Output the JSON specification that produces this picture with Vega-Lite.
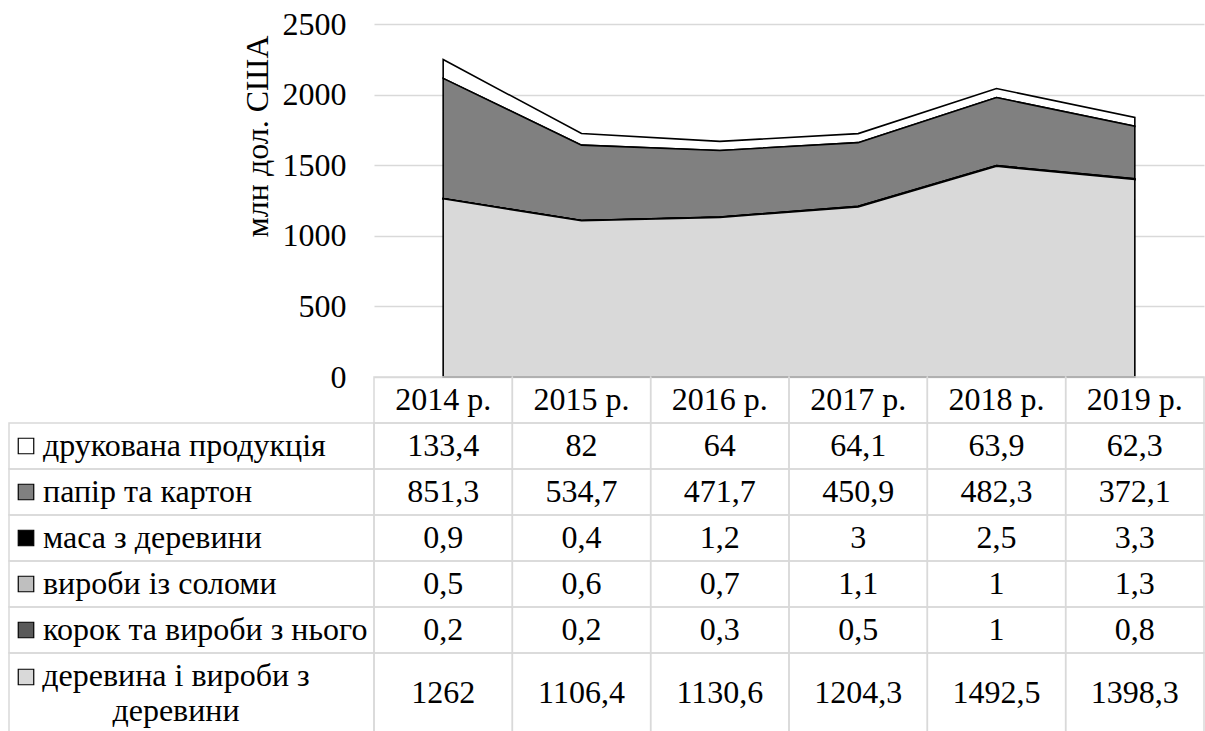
{
  "$schema": "https://vega.github.io/schema/vega-lite/v6.json",
  "padding": {"left": 8, "top": 8, "right": 2, "bottom": 0},
  "autosize": {"type": "pad"},
  "bounds": "flush",
  "spacing": 0,
  "columns": 2,
  "config": {
    "view": {"stroke": null},
    "font": "Liberation Serif",
    "locale": {"number": {"decimal": ",", "thousands": "", "grouping": [3], "currency": ["", ""]}},
    "text": {"font": "Liberation Serif", "fontSize": 32, "color": "black"}
  },
  "datasets": {
    "trade": [
      {"year": "2014 р.", "series": "друкована продукція", "value": 133.4},
      {"year": "2014 р.", "series": "папір та картон", "value": 851.3},
      {"year": "2014 р.", "series": "маса з деревини", "value": 0.9},
      {"year": "2014 р.", "series": "вироби із соломи", "value": 0.5},
      {"year": "2014 р.", "series": "корок та вироби з нього", "value": 0.2},
      {"year": "2014 р.", "series": "деревина і вироби з\nдеревини", "value": 1262},
      {"year": "2015 р.", "series": "друкована продукція", "value": 82},
      {"year": "2015 р.", "series": "папір та картон", "value": 534.7},
      {"year": "2015 р.", "series": "маса з деревини", "value": 0.4},
      {"year": "2015 р.", "series": "вироби із соломи", "value": 0.6},
      {"year": "2015 р.", "series": "корок та вироби з нього", "value": 0.2},
      {"year": "2015 р.", "series": "деревина і вироби з\nдеревини", "value": 1106.4},
      {"year": "2016 р.", "series": "друкована продукція", "value": 64},
      {"year": "2016 р.", "series": "папір та картон", "value": 471.7},
      {"year": "2016 р.", "series": "маса з деревини", "value": 1.2},
      {"year": "2016 р.", "series": "вироби із соломи", "value": 0.7},
      {"year": "2016 р.", "series": "корок та вироби з нього", "value": 0.3},
      {"year": "2016 р.", "series": "деревина і вироби з\nдеревини", "value": 1130.6},
      {"year": "2017 р.", "series": "друкована продукція", "value": 64.1},
      {"year": "2017 р.", "series": "папір та картон", "value": 450.9},
      {"year": "2017 р.", "series": "маса з деревини", "value": 3},
      {"year": "2017 р.", "series": "вироби із соломи", "value": 1.1},
      {"year": "2017 р.", "series": "корок та вироби з нього", "value": 0.5},
      {"year": "2017 р.", "series": "деревина і вироби з\nдеревини", "value": 1204.3},
      {"year": "2018 р.", "series": "друкована продукція", "value": 63.9},
      {"year": "2018 р.", "series": "папір та картон", "value": 482.3},
      {"year": "2018 р.", "series": "маса з деревини", "value": 2.5},
      {"year": "2018 р.", "series": "вироби із соломи", "value": 1},
      {"year": "2018 р.", "series": "корок та вироби з нього", "value": 1},
      {"year": "2018 р.", "series": "деревина і вироби з\nдеревини", "value": 1492.5},
      {"year": "2019 р.", "series": "друкована продукція", "value": 62.3},
      {"year": "2019 р.", "series": "папір та картон", "value": 372.1},
      {"year": "2019 р.", "series": "маса з деревини", "value": 3.3},
      {"year": "2019 р.", "series": "вироби із соломи", "value": 1.3},
      {"year": "2019 р.", "series": "корок та вироби з нього", "value": 0.8},
      {"year": "2019 р.", "series": "деревина і вироби з\nдеревини", "value": 1398.3}
    ]
  },
  "concat": [
    {
      "width": 365, "height": 353,
      "data": {"values": [{}]},
      "mark": {"type": "text", "text": ""}
    },
    {
      "width": 830, "height": 353,
      "data": {"name": "trade"},
      "transform": [
        {"calculate": "indexof(['деревина і вироби з\\nдеревини', 'корок та вироби з нього', 'вироби із соломи', 'маса з деревини', 'папір та картон', 'друкована продукція'], datum.series)", "as": "ord"}
      ],
      "mark": {"type": "area", "stroke": "black", "strokeWidth": 1.6, "strokeJoin": "miter"},
      "encoding": {
        "x": {"field": "year", "type": "ordinal", "scale": {"type": "point", "padding": 0.5}, "axis": null},
        "y": {
          "field": "value", "type": "quantitative", "stack": "zero",
          "scale": {"domain": [0, 2500], "nice": false},
          "axis": {
            "title": "млн дол. США", "values": [0, 500, 1000, 1500, 2000, 2500],
            "grid": true, "gridColor": "#d9d9d9", "gridWidth": 1.5,
            "domain": false, "ticks": false, "labelPadding": 28,
            "labelFont": "Liberation Serif", "labelFontSize": 32, "labelColor": "black",
            "titleFont": "Liberation Serif", "titleFontSize": 32, "titleFontWeight": "normal",
            "titleColor": "black", "titlePadding": 8, "titleAnchor": "end", "titleY": 11
          }
        },
        "color": {
          "field": "series", "type": "nominal", "legend": null,
          "scale": {
            "domain": ["друкована продукція", "папір та картон", "маса з деревини", "вироби із соломи", "корок та вироби з нього", "деревина і вироби з\nдеревини"],
            "range": ["#ffffff", "#808080", "#000000", "#bfbfbf", "#595959", "#d9d9d9"]
          }
        },
        "order": {"field": "ord", "type": "quantitative"}
      }
    },
    {
      "width": 365, "height": 276,
      "data": {"name": "trade"},
      "transform": [
        {"filter": "datum.year === '2014 р.' && indexof(datum.series, 'деревина') !== 0"}
      ],
      "encoding": {
        "y": {
          "field": "series", "type": "nominal", "axis": null,
          "scale": {"domain": [" ", "друкована продукція", "папір та картон", "маса з деревини", "вироби із соломи", "корок та вироби з нього"], "paddingInner": 0, "paddingOuter": 0}
        }
      },
      "layer": [
        {"mark": {"type": "rect", "filled": false, "stroke": "#d9d9d9", "strokeWidth": 1.5}},
        {
          "mark": {"type": "point", "shape": "square", "size": 240, "filled": true, "stroke": "black", "strokeWidth": 1.2, "opacity": 1, "xOffset": 17},
          "encoding": {
            "x": {"datum": "k", "type": "nominal", "bandPosition": 0, "axis": null, "scale": {"type": "band", "domain": ["k"], "paddingInner": 0, "paddingOuter": 0}},
            "fill": {
              "field": "series", "type": "nominal", "legend": null,
              "scale": {
                "domain": ["друкована продукція", "папір та картон", "маса з деревини", "вироби із соломи", "корок та вироби з нього", "деревина і вироби з\nдеревини"],
                "range": ["#ffffff", "#808080", "#000000", "#bfbfbf", "#595959", "#d9d9d9"]
              }
            }
          }
        },
        {
          "mark": {"type": "text", "align": "left", "baseline": "middle", "dx": 34, "fontSize": 32},
          "encoding": {
            "x": {"datum": "k", "type": "nominal", "bandPosition": 0, "axis": null, "scale": {"type": "band", "domain": ["k"], "paddingInner": 0, "paddingOuter": 0}},
            "text": {"field": "series"}
          }
        }
      ]
    },
    {
      "width": 830, "height": 276,
      "data": {"name": "trade"},
      "transform": [
        {"filter": "indexof(datum.series, 'деревина') !== 0"}
      ],
      "encoding": {
        "x": {"field": "year", "type": "nominal", "axis": null, "scale": {"type": "band", "paddingInner": 0, "paddingOuter": 0}},
        "y": {
          "field": "series", "type": "nominal", "axis": null,
          "scale": {"domain": [" ", "друкована продукція", "папір та картон", "маса з деревини", "вироби із соломи", "корок та вироби з нього"], "paddingInner": 0, "paddingOuter": 0}
        }
      },
      "layer": [
        {"mark": {"type": "rect", "filled": false, "stroke": "#d9d9d9", "strokeWidth": 1.5}},
        {
          "mark": {"type": "text", "fontSize": 32, "baseline": "middle"},
          "encoding": {"text": {"field": "value", "type": "quantitative", "format": "~g"}}
        },
        {
          "transform": [{"filter": "datum.series === 'друкована продукція'"}],
          "mark": {"type": "rect", "filled": false, "stroke": "#d9d9d9", "strokeWidth": 1.5},
          "encoding": {"y": {"datum": " ", "type": "nominal"}}
        },
        {
          "transform": [{"filter": "datum.series === 'друкована продукція'"}],
          "mark": {"type": "text", "fontSize": 32, "baseline": "middle"},
          "encoding": {"y": {"datum": " ", "type": "nominal"}, "text": {"field": "year"}}
        }
      ]
    },
    {
      "width": 365, "height": 80,
      "data": {"name": "trade"},
      "transform": [
        {"filter": "datum.year === '2014 р.' && indexof(datum.series, 'деревина') === 0"}
      ],
      "layer": [
        {"mark": {"type": "rect", "filled": false, "stroke": "#d9d9d9", "strokeWidth": 1.5}},
        {
          "mark": {"type": "point", "shape": "square", "size": 240, "filled": true, "stroke": "black", "strokeWidth": 1.2, "opacity": 1, "xOffset": 17, "yOffset": -16},
          "encoding": {
            "x": {"datum": "k", "type": "nominal", "bandPosition": 0, "axis": null, "scale": {"type": "band", "domain": ["k"], "paddingInner": 0, "paddingOuter": 0}},
            "fill": {
              "field": "series", "type": "nominal", "legend": null,
              "scale": {
                "domain": ["друкована продукція", "папір та картон", "маса з деревини", "вироби із соломи", "корок та вироби з нього", "деревина і вироби з\nдеревини"],
                "range": ["#ffffff", "#808080", "#000000", "#bfbfbf", "#595959", "#d9d9d9"]
              }
            }
          }
        },
        {
          "mark": {"type": "text", "align": "center", "baseline": "middle", "dx": 167, "dy": -17, "fontSize": 32, "lineBreak": "\n", "lineHeight": 35},
          "encoding": {
            "x": {"datum": "k", "type": "nominal", "bandPosition": 0, "axis": null, "scale": {"type": "band", "domain": ["k"], "paddingInner": 0, "paddingOuter": 0}},
            "text": {"field": "series"}
          }
        }
      ]
    },
    {
      "width": 830, "height": 80,
      "data": {"name": "trade"},
      "transform": [
        {"filter": "indexof(datum.series, 'деревина') === 0"}
      ],
      "encoding": {
        "x": {"field": "year", "type": "nominal", "axis": null, "scale": {"type": "band", "paddingInner": 0, "paddingOuter": 0}}
      },
      "layer": [
        {"mark": {"type": "rect", "filled": false, "stroke": "#d9d9d9", "strokeWidth": 1.5}},
        {
          "mark": {"type": "text", "fontSize": 32, "baseline": "middle"},
          "encoding": {"text": {"field": "value", "type": "quantitative", "format": "~g"}}
        }
      ]
    }
  ]
}
